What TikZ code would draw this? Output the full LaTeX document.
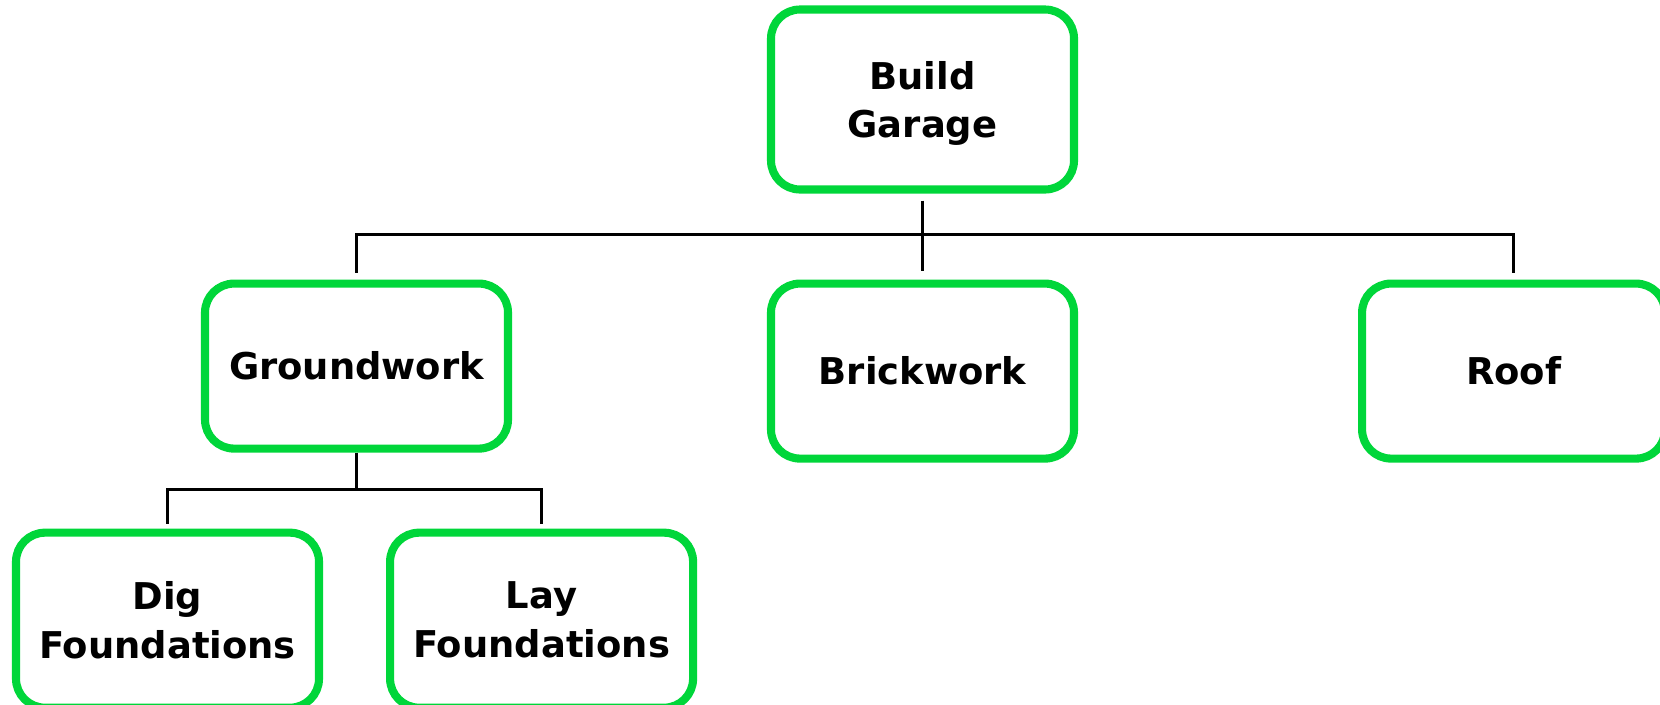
\documentclass[tikz,border=0pt]{standalone}
\usepackage{fontspec}
\setmainfont{DejaVu Sans}
\usepackage{xcolor}
\usepackage{tikz}
\usetikzlibrary{positioning,calc}
\definecolor{TaskGreen}{RGB}{0,214,58}
\tikzset{
  task/.style={rectangle,rounded corners=0.29cm,draw=TaskGreen,line width=2.3pt,
               fill=white,minimum width=3.03cm,minimum height=1.75cm,
               align=center,inner sep=2pt,
               font=\fontsize{10.5}{13.9}\selectfont\bfseries},
  link/.style={line width=0.85pt,black},
}
\begin{document}
\begin{tikzpicture}
  \useasboundingbox (0,-7.04) rectangle (16.6,0);
  \clip (0,-7.04) rectangle (16.6,0);
  % top level
  \node[task,minimum height=1.8cm,text depth=0pt] (bg) at (9.225,-0.995) {Build\\Garage};
  \node[task,below=0.86cm of bg] (bw) {Brickwork};
  \node[task,minimum height=1.65cm,anchor=north] (gw) at ($(bw.north)+(-5.66,0)$) {Groundwork};
  \node[task,right=2.8cm of bw] (rf) {Roof};
  % groundwork children
  \node[task,anchor=north] (dig) at ($(gw.south)+(-1.89,-0.76)$) {Dig\\Foundations};
  \node[task,right=0.63cm of dig] (lay) {Lay\\Foundations};
  % connectors
  \coordinate (bgbus) at ($(bg.south)+(0,-0.41)$);
  \coordinate (gwbus) at ($(gw.south)+(0,-0.37)$);
  \draw[link,shorten <=0.07cm,shorten >=0.09cm] (bg) -- (bw);
  \draw[link,shorten >=0.07cm] (bgbus) -| (gw.north);
  \draw[link,shorten >=0.07cm] (bgbus) -| (rf.north);
  \draw[link] (gw.south) -- (gwbus);
  \draw[link,shorten >=0.05cm] (gwbus) -| (dig.north);
  \draw[link,shorten >=0.05cm] (gwbus) -| (lay.north);
\end{tikzpicture}
\end{document}
